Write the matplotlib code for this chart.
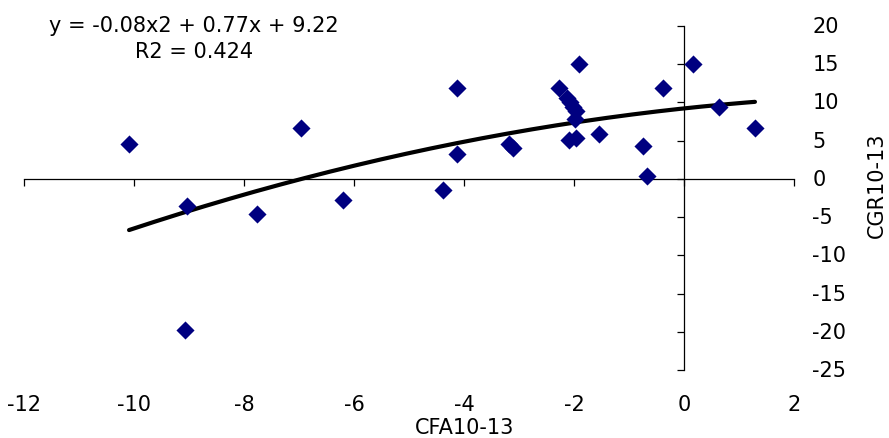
import numpy as np
import matplotlib.pyplot as plt

# ---------------- DATA ----------------
cfa = [-10.09, -9.04, -9.07, -7.76, -6.96, -6.20, -4.38, -4.13, -4.13,
       -3.18, -3.11, -2.27, -2.13, -2.07, -2.02, -1.96, -1.98, -2.09,
       -1.96, -1.91, -1.55, -0.75, -0.67, -0.38, 0.16, 0.64, 1.29]
cgr = [4.6, -3.5, -19.8, -4.6, 6.7, -2.7, -1.45, 11.9, 3.3,
       4.6, 4.1, 11.9, 10.6, 10.1, 9.4, 8.9, 7.85, 5.1,
       5.4, 15.05, 5.9, 4.3, 0.4, 11.9, 15.05, 9.4, 6.7]

# quadratic trend coefficients (a*x^2 + b*x + c)
coef = [-0.08, 0.77, 9.22]
r2 = 0.424

x_ticks = [-12, -10, -8, -6, -4, -2, 0, 2]
y_ticks = [20, 15, 10, 5, 0, -5, -10, -15, -20, -25]

FS = 15

# ---------------- PLOT ----------------
fig = plt.figure(figsize=(8.89, 4.39), dpi=100)
ax = fig.add_axes([24 / 889, 1 - 371 / 439, 770 / 889, 344 / 439])

ax.scatter(cfa, cgr, marker="D", s=85, color="#000080", zorder=3, linewidths=0)

xs = np.linspace(min(cfa), max(cfa), 200)
ax.plot(xs, np.polyval(coef, xs), color="black", lw=3.0, zorder=2,
        solid_capstyle="round")

ax.set_xlim(-12, 2)
ax.set_ylim(-25, 20)

for s in ["top", "right"]:
    ax.spines[s].set_visible(False)
ax.spines["left"].set_position(("data", 0))
ax.spines["bottom"].set_position(("data", 0))
ax.spines["left"].set_linewidth(0.9)
ax.spines["bottom"].set_linewidth(0.9)

ax.set_xticks(x_ticks)
ax.set_yticks(y_ticks)
ax.tick_params(axis="both", direction="out", length=5, width=0.9)
ax.set_xticklabels([])
ax.set_yticklabels([])

# tick labels sit outside the plot area, like a spreadsheet chart
for v in x_ticks:
    fig.text((24 + (v + 12) * 55) / 889, 1 - 405 / 439, str(v),
             ha="center", va="center", fontsize=FS)
for v in y_ticks:
    ax.text(1.024, v, str(v), transform=ax.get_yaxis_transform(),
            ha="left", va="center", fontsize=FS)

fig.text(465 / 889, 1 - 428 / 439, "CFA10-13", ha="center", va="center", fontsize=FS)
fig.text(877 / 889, 1 - 185 / 439, "CGR10-13", ha="center", va="center",
         rotation=90, fontsize=FS)

fig.text(194 / 889, 1 - 26 / 439,
         "y = %.2fx2 + %.2fx + %.2f" % (coef[0], coef[1], coef[2]),
         ha="center", va="center", fontsize=FS)
fig.text(194 / 889, 1 - 52 / 439, "R2 = %.3f" % r2,
         ha="center", va="center", fontsize=FS)

plt.savefig("out.png", dpi=100)
